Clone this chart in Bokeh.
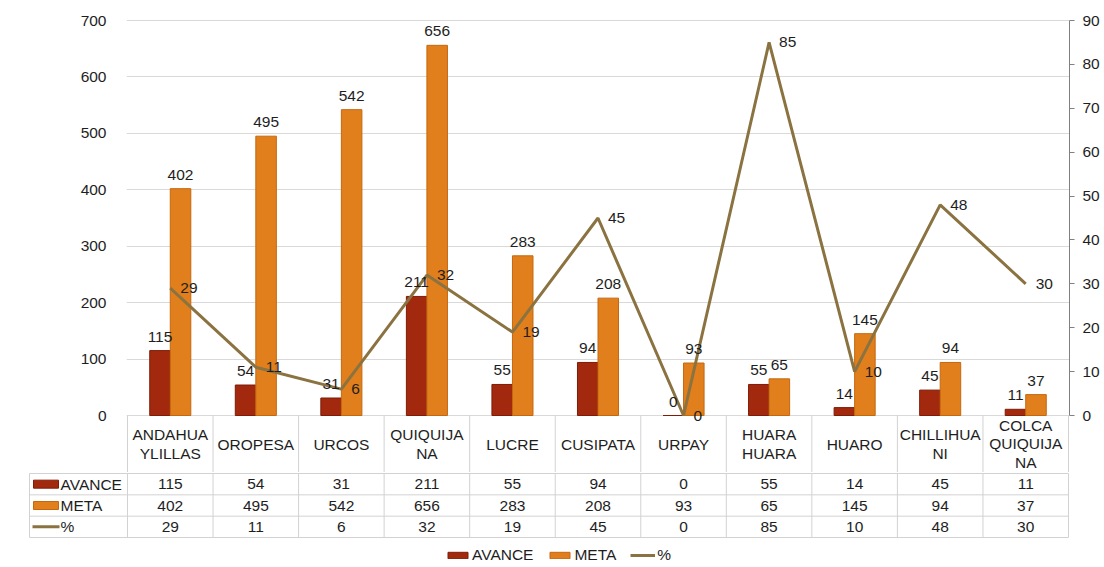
import numpy as np
from bokeh.plotting import figure
from bokeh.models import (ColumnDataSource, Range1d, LinearAxis, FixedTicker,
                          LabelSet, Legend, LegendItem)
from bokeh.layouts import column
from bokeh.embed import file_html
from bokeh.resources import INLINE
from bokeh.core.properties import value

# ---------------- data ----------------
categories = ["ANDAHUA\nYLILLAS", "OROPESA", "URCOS", "QUIQUIJA\nNA", "LUCRE",
              "CUSIPATA", "URPAY", "HUARA\nHUARA", "HUARO", "CHILLIHUA\nNI",
              "COLCA\nQUIQUIJA\nNA"]
avance = [115, 54, 31, 211, 55, 94, 0, 55, 14, 45, 11]
meta = [402, 495, 542, 656, 283, 208, 93, 65, 145, 94, 37]
pct = [29, 11, 6, 32, 19, 45, 0, 85, 10, 48, 30]
series_names = ["AVANCE", "META", "%"]
left_ticks = [0, 100, 200, 300, 400, 500, 600, 700]
right_ticks = [0, 10, 20, 30, 40, 50, 60, 70, 80, 90]

# ---------------- style ----------------
FONT = "Liberation Sans"
FS = "15.5px"
TXT = "#1E1E1E"
C_AV, C_AV_LINE = "#A3290E", "#7E1C07"
C_ME, C_ME_LINE = "#E07F1C", "#C4680F"
C_PCT = "#8B7341"
GRID = "#D9D9D9"
TABLE = "#D2D2D2"

n = len(categories)
idx = np.arange(n)
W = 1104
PX_COL = 941.0 / n          # pixels per category column
PLOT_PX = 395.0             # pixel height of value axis 0..max
LMAX, RMAX = left_ticks[-1], right_ticks[-1]
upp = LMAX / PLOT_PX
ppp = RMAX / PLOT_PX
HEADER_PX = 57


def no_align(fig):
    if "frame_align" in fig.properties():
        fig.frame_align = False


# ---------------- chart figure ----------------
p = figure(width=W, height=472,
           x_range=Range1d(-0.5 - 1 / PX_COL, n - 0.5 + 1 / PX_COL),
           y_range=Range1d(-HEADER_PX * upp, LMAX + 2 * upp),
           x_axis_location=None, y_axis_location="left",
           output_backend="svg", toolbar_location=None,
           min_border_left=126, min_border_right=35,
           min_border_top=18, min_border_bottom=0,
           outline_line_color=None, background_fill_color="white",
           border_fill_color="white")
no_align(p)
p.xgrid.visible = False
p.ygrid.ticker = FixedTicker(ticks=left_ticks)
p.ygrid.grid_line_color = GRID
p.ygrid.grid_line_width = 1

ya = p.yaxis[0]
ya.ticker = FixedTicker(ticks=left_ticks)
ya.axis_line_color = None
ya.major_tick_line_color = None
ya.minor_tick_line_color = None
ya.major_label_standoff = 14
ya.major_label_text_font = FONT
ya.major_label_text_font_size = FS
ya.major_label_text_color = TXT

p.extra_y_ranges = {"pct": Range1d(-HEADER_PX * ppp, RMAX + 2 * ppp)}
ra = LinearAxis(y_range_name="pct", ticker=FixedTicker(ticks=right_ticks),
                bounds=(0, RMAX), axis_line_color="#808080", axis_line_width=1,
                major_tick_line_color="#808080", major_tick_out=5, major_tick_in=0,
                minor_tick_line_color=None, major_label_standoff=8,
                major_label_text_font=FONT, major_label_text_font_size=FS,
                major_label_text_color=TXT)
p.add_layout(ra, "right")

src = ColumnDataSource(dict(
    x=idx, xa=idx - 0.12, xm=idx + 0.12,
    avance=avance, meta=meta, pct=pct,
    avance_t=[str(v) for v in avance], meta_t=[str(v) for v in meta],
    pct_t=[str(v) for v in pct]))

r_av = p.vbar(x="xa", top="avance", bottom=0, width=0.24, source=src,
              fill_color=C_AV, line_color=C_AV_LINE, line_width=1)
r_me = p.vbar(x="xm", top="meta", bottom=0, width=0.24, source=src,
              fill_color=C_ME, line_color=C_ME_LINE, line_width=1)
r_pc = p.line(x="x", y="pct", source=src, y_range_name="pct",
              line_width=3, line_color=C_PCT)

common = dict(text_font=value(FONT), text_font_size=FS, text_color=TXT)
p.add_layout(LabelSet(x="xa", y="avance", text="avance_t", source=src,
                      text_align="center", text_baseline="alphabetic",
                      y_offset=9, **common))
p.add_layout(LabelSet(x="xm", y="meta", text="meta_t", source=src,
                      text_align="center", text_baseline="alphabetic",
                      y_offset=9, **common))
p.add_layout(LabelSet(x="x", y="pct", text="pct_t", source=src,
                      y_range_name="pct", text_align="left",
                      text_baseline="middle", x_offset=10, **common))

# header row of the data table (category names)
y_hdr = -HEADER_PX * upp
p.segment(x0=[k - 0.5 for k in range(n + 1)], y0=0,
          x1=[k - 0.5 for k in range(n + 1)], y1=y_hdr,
          line_color=TABLE, line_width=1)
p.text(x=idx, y=[y_hdr / 2] * n, text=categories, text_align="center",
       text_baseline="middle", text_line_height=1.1, **common)

# ---------------- data table figure ----------------
H2 = 567 - 472
keyL = -0.5 - 98 / PX_COL
q = figure(width=W, height=H2,
           x_range=Range1d(-0.5 - 98 / PX_COL - 1 / PX_COL, n - 0.5 + 1 / PX_COL),
           y_range=Range1d(H2, 0),
           x_axis_location=None, y_axis_location=None,
           output_backend="svg", toolbar_location=None,
           min_border_left=28, min_border_right=35,
           min_border_top=0, min_border_bottom=0,
           outline_line_color=None, background_fill_color="white",
           border_fill_color="white")
no_align(q)
q.xgrid.visible = False
q.ygrid.visible = False

row_h = 64 / 3.0
borders = [1 + r * row_h for r in range(4)]
centers = [1 + (r + 0.5) * row_h for r in range(3)]

q.segment(x0=keyL, y0=borders, x1=n - 0.5, y1=borders,
          line_color=TABLE, line_width=1)
vx = [keyL] + [k - 0.5 for k in range(n + 1)]
q.segment(x0=vx, y0=borders[0], x1=vx, y1=borders[-1],
          line_color=TABLE, line_width=1)

rows = [avance, meta, pct]
tx, ty, tt = [], [], []
for r, vals in enumerate(rows):
    for i, v in enumerate(vals):
        tx.append(i); ty.append(centers[r]); tt.append(str(v))
q.text(x=tx, y=ty, text=tt, text_align="center", text_baseline="middle", **common)

sw_x = keyL + 16.5 / PX_COL
k_av = q.rect(x=sw_x, y=centers[0], width=25, height=8, width_units="screen",
              height_units="screen", fill_color=C_AV, line_color=C_AV_LINE)
k_me = q.rect(x=sw_x, y=centers[1], width=25, height=8, width_units="screen",
              height_units="screen", fill_color=C_ME, line_color=C_ME_LINE)
k_pc = q.line(x=[keyL + 3 / PX_COL, keyL + 30 / PX_COL], y=[centers[2], centers[2]],
              line_width=3, line_color=C_PCT)
q.text(x=[keyL + 31 / PX_COL] * 3, y=centers, text=series_names,
       text_align="left", text_baseline="middle", **common)

legend = Legend(items=[LegendItem(label=series_names[0], renderers=[k_av]),
                       LegendItem(label=series_names[1], renderers=[k_me]),
                       LegendItem(label=series_names[2], renderers=[k_pc])],
                location=(417, 3), orientation="horizontal",
                glyph_width=25, glyph_height=8, label_standoff=2, spacing=14,
                padding=0, margin=0, border_line_color=None,
                background_fill_alpha=0, label_text_font=FONT,
                label_text_font_size=FS, label_text_color=TXT, label_height=16)
q.add_layout(legend)

layout = column(p, q, spacing=0)
open("out.html", "w").write(file_html(layout, INLINE))
